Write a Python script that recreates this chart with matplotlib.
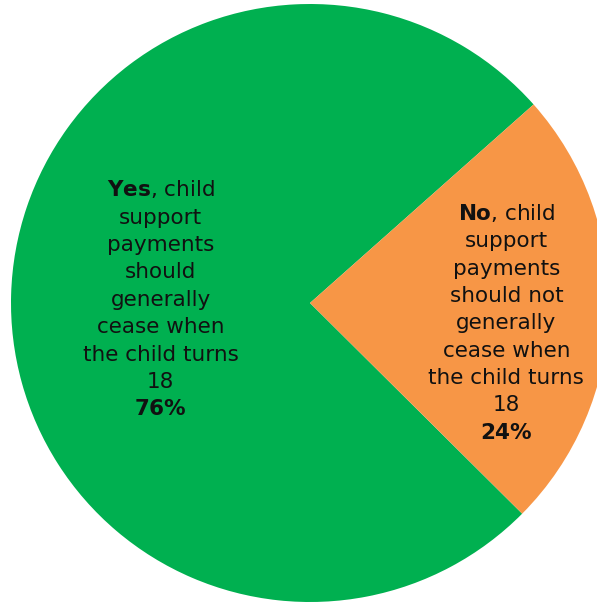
import numpy as np
import matplotlib as mpl
import matplotlib.pyplot as plt

mpl.rcParams['font.family'] = 'DejaVu Sans'
mpl.rcParams['mathtext.fontset'] = 'dejavusans'

answers = ['Yes', 'No']
shares = [76, 24]
bodies = [', child\nsupport\npayments\nshould\ngenerally\ncease when\nthe child turns\n18',
          ', child\nsupport\npayments\nshould not\ngenerally\ncease when\nthe child turns\n18']
colors = ['#00B050', '#F79646']

fig = plt.figure(figsize=(5.97, 6.03), dpi=100)
ax = fig.add_axes([0, 0, 1, 1])

cx, cy, r = 310, 300, 299
wedges, _ = ax.pie(shares, colors=colors, startangle=41.6, counterclock=True,
                   center=(cx, cy), radius=r, frame=True,
                   wedgeprops=dict(linewidth=0))
ax.set_xlim(0, 597)
ax.set_ylim(0, 603)
ax.set_aspect('equal')
ax.axis('off')

# label distance (fraction of radius) and small angular nudge per slice
dists = [0.50, 0.66]
nudges = [0, -4]
for w, ans, body, pct, d, dn in zip(wedges, answers, bodies, shares, dists, nudges):
    mid = np.deg2rad((w.theta1 + w.theta2) / 2 + dn)
    x = cx + d * r * np.cos(mid)
    y = cy + d * r * np.sin(mid)
    lines = body.split('\n')
    lines[0] = r'$\mathbf{%s}$' % ans + lines[0]
    lines.append(r'$\mathbf{%d\%%}$' % pct)
    ax.text(x, y, '\n'.join(lines), ha='center', va='center', multialignment='center',
            fontsize=15.5, color='#111111', linespacing=1.46)

fig.savefig('out.png', dpi=100)
